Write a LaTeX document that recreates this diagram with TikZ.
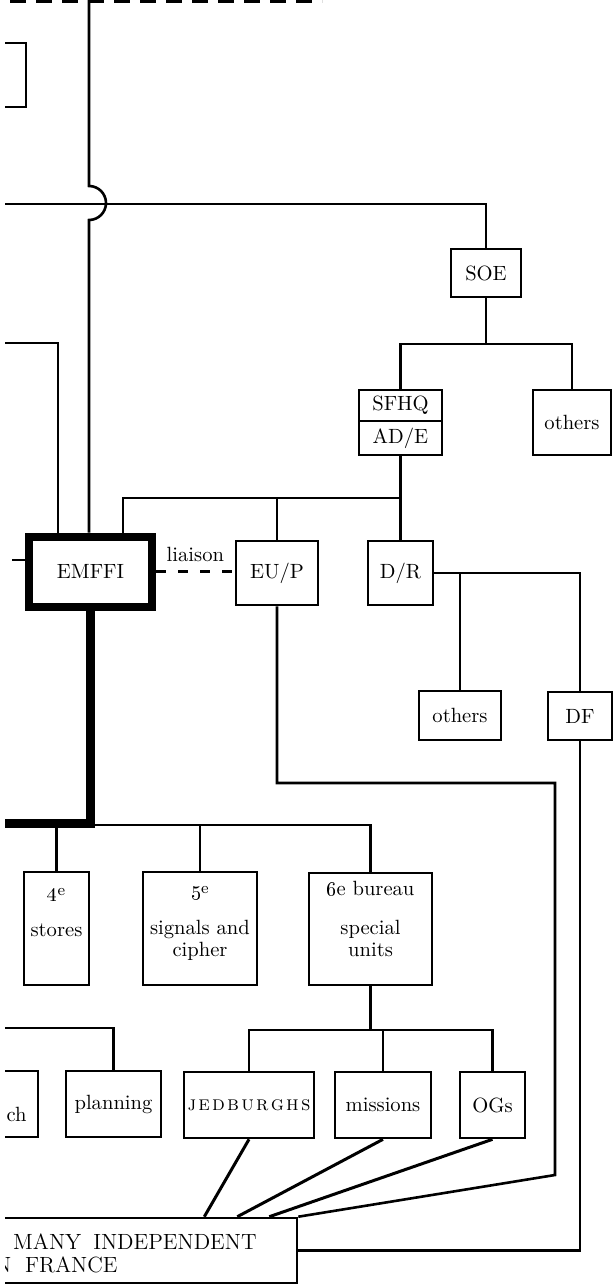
\documentclass[tikz,border=0pt]{standalone}
\usetikzlibrary{positioning, calc}

\newcommand\ordsup{\raisebox{1.2pt}{\fontsize{8}{8}\selectfont e}}

\begin{document}
\begin{tikzpicture}[
    x=0.5pt, y=-0.5pt,
    box/.style={rectangle, draw=black, line width=1.3pt, inner sep=0pt, align=center, font=\fontsize{10.3}{11}\selectfont},
    bigbox/.style={box, line width=4pt},
    txt/.style={inner sep=0pt, align=center, font=\fontsize{10.3}{11}\selectfont},
    captxt/.style={inner sep=0pt, anchor=base east, font=\fontsize{11}{13}\selectfont},
    link/.style={line width=1.3pt},
    heavy/.style={line width=4.5pt},
    slant/.style={line width=1.5pt},
    liaisonline/.style={line width=1.3pt, dash pattern=on 5pt off 6pt},
]
\useasboundingbox (0,0) rectangle (613,1285);
\clip (5,0) rectangle (613,1285);

% upper boxes
\node[box, minimum width=33pt, minimum height=32pt] (hqbox) at (-7,75) {};
\node[box, minimum width=35pt, minimum height=24pt] (soe) at (486,273) {SOE};
\node[box, minimum width=41.5pt, minimum height=15.5pt] (sfhq) at (400.5,405.5) {SFHQ};
\node[box, minimum width=41.5pt, minimum height=17pt] (ade) at (400.5,438) {AD/E};
\node[box, minimum width=39pt, minimum height=32.5pt] (soeothers) at (572,422.5) {others};
\node[bigbox, minimum width=61.5pt, minimum height=35pt] (emffi) at (90.5,571.5) {EMFFI};
\node[box, minimum width=41pt, minimum height=32pt] (eup) at (277,573) {EU/P};
\node[box, minimum width=32.5pt, minimum height=32pt] (dr) at (400.5,573) {D/R};
\node[box, minimum width=41pt, minimum height=24.5pt] (drothers) at (460,715.5) {others};
\node[box, minimum width=32pt, minimum height=24pt] (df) at (580,716) {DF};

% bureaux
\node[box, minimum width=32.5pt, minimum height=56.5pt] (stores) at (56.5,928.5) {};
\node[box, minimum width=57pt, minimum height=56.5pt] (signals) at (200,928.5) {};
\node[box, minimum width=61.5pt, minimum height=56pt] (special) at (370.5,929) {};
\node[txt, anchor=base] (stores-t) at ($(stores.north)+(0,66)$) {\oldstylenums{4}\ordsup\\[8.5pt]stores};
\node[txt, anchor=base] (signals-t) at ($(signals.north)+(0,86)$) {\oldstylenums{5}\ordsup\\[8.5pt]signals and\\cipher};
\node[txt, anchor=base] (special-t) at ($(special.north)+(0,85)$) {\oldstylenums{6}e bureau\\[8.5pt]special\\units};

% bottom row
\node[box, minimum width=34pt, minimum height=33pt] (chbox) at (4,1104) {};
\node[txt, anchor=base east] (chbox-t) at (27,1121) {ch};
\node[box, minimum width=47.5pt, minimum height=33pt] (planning) at (113.5,1104) {planning};
\node[box, minimum width=65pt, minimum height=33pt] (jed) at (249,1105) {\textsc{j\kern1.1pt e\kern1.1pt d\kern1.1pt b\kern1.1pt u\kern1.1pt r\kern1.1pt g\kern1.1pt h\kern1.1pt s}};
\node[box, minimum width=48pt, minimum height=33pt] (missions) at (383,1105) {missions};
\node[box, minimum width=32.5pt, minimum height=33pt] (ogs) at (492.5,1105) {OGs};
\node[box, minimum width=168.5pt, minimum height=32.5pt] (groups) at (128.5,1250.5) {};
\node[captxt] (groups-a) at (257,1249) {MANY\hspace{6pt}INDEPENDENT};
\node[captxt] (groups-b) at (118,1272) {N\hspace{7pt}FRANCE};

% connectors
\coordinate (dashL) at (10,1.5);
\coordinate (dashR) at (322,1.5);
\coordinate (cmdtop) at (89,0);
\coordinate (soeline) at (5,204);
\coordinate (leftline) at (5,343);
\coordinate (stub) at (12,560);
\coordinate (soefork) at (486,344);
\coordinate (hqfork) at (400.5,498);
\coordinate (euloopA) at (555,783);
\coordinate (euloopB) at (555,1175);
\coordinate (staffend) at (5,823);
\coordinate (bureaufork) at (90,825);
\coordinate (specialfork) at (370.5,1030);
\coordinate (planline) at (5,1028);

\draw[line width=1.5pt, dash pattern=on 8pt off 5pt] (dashL) -- (dashR);
\draw[link] (cmdtop) -- (89,186) arc[start angle=-90, end angle=90, radius=17] -- (cmdtop |- emffi.north);
\draw[link] (soeline) -| (soe.north);
\draw[link] (soe.south) -- (soefork);
\draw[link] (sfhq.north) |- (soefork) -| (soeothers.north);
\draw[link] (ade.south) -- (dr.north);
\draw[link] ($(emffi.north)+(32.5,0)$) |- (hqfork);
\draw[link] (eup.north) -- (eup.north |- hqfork);
\draw[link] (leftline) -| ($(emffi.north)+(-32.5,0)$);
\draw[link] (stub) -- (stub -| emffi.west);
\draw[liaisonline] (emffi.east) -- (emffi.east -| eup.west) node[midway, above=4pt, txt] (liaison) {liaison};
\draw[link] (dr.east) -| (df.north);
\draw[link] (drothers.north |- dr.east) -- (drothers.north);
\draw[link] (df.south) |- (groups.east);
\draw[link] (eup.south) |- (euloopA) -- (euloopB) -- (groups.north east);
\draw[heavy] (emffi.south) |- (staffend);
\draw[link] (bureaufork) -| (special.north);
\foreach \b in {stores, signals}
    \draw[link] (\b.north) -- (\b.north |- bureaufork);
\draw[link] (special.south) -- (specialfork);
\draw[link] (jed.north) |- (specialfork) -| (ogs.north);
\draw[link] (missions.north) -- (missions.north |- specialfork);
\draw[link] (planline) -| (planning.north);
\draw[slant] (jed.south) -- ($(groups.north east)+(-94,0)$);
\draw[slant] (missions.south) -- ($(groups.north east)+(-61,0)$);
\draw[slant] (ogs.south) -- ($(groups.north east)+(-29,0)$);

\end{tikzpicture}
\end{document}
